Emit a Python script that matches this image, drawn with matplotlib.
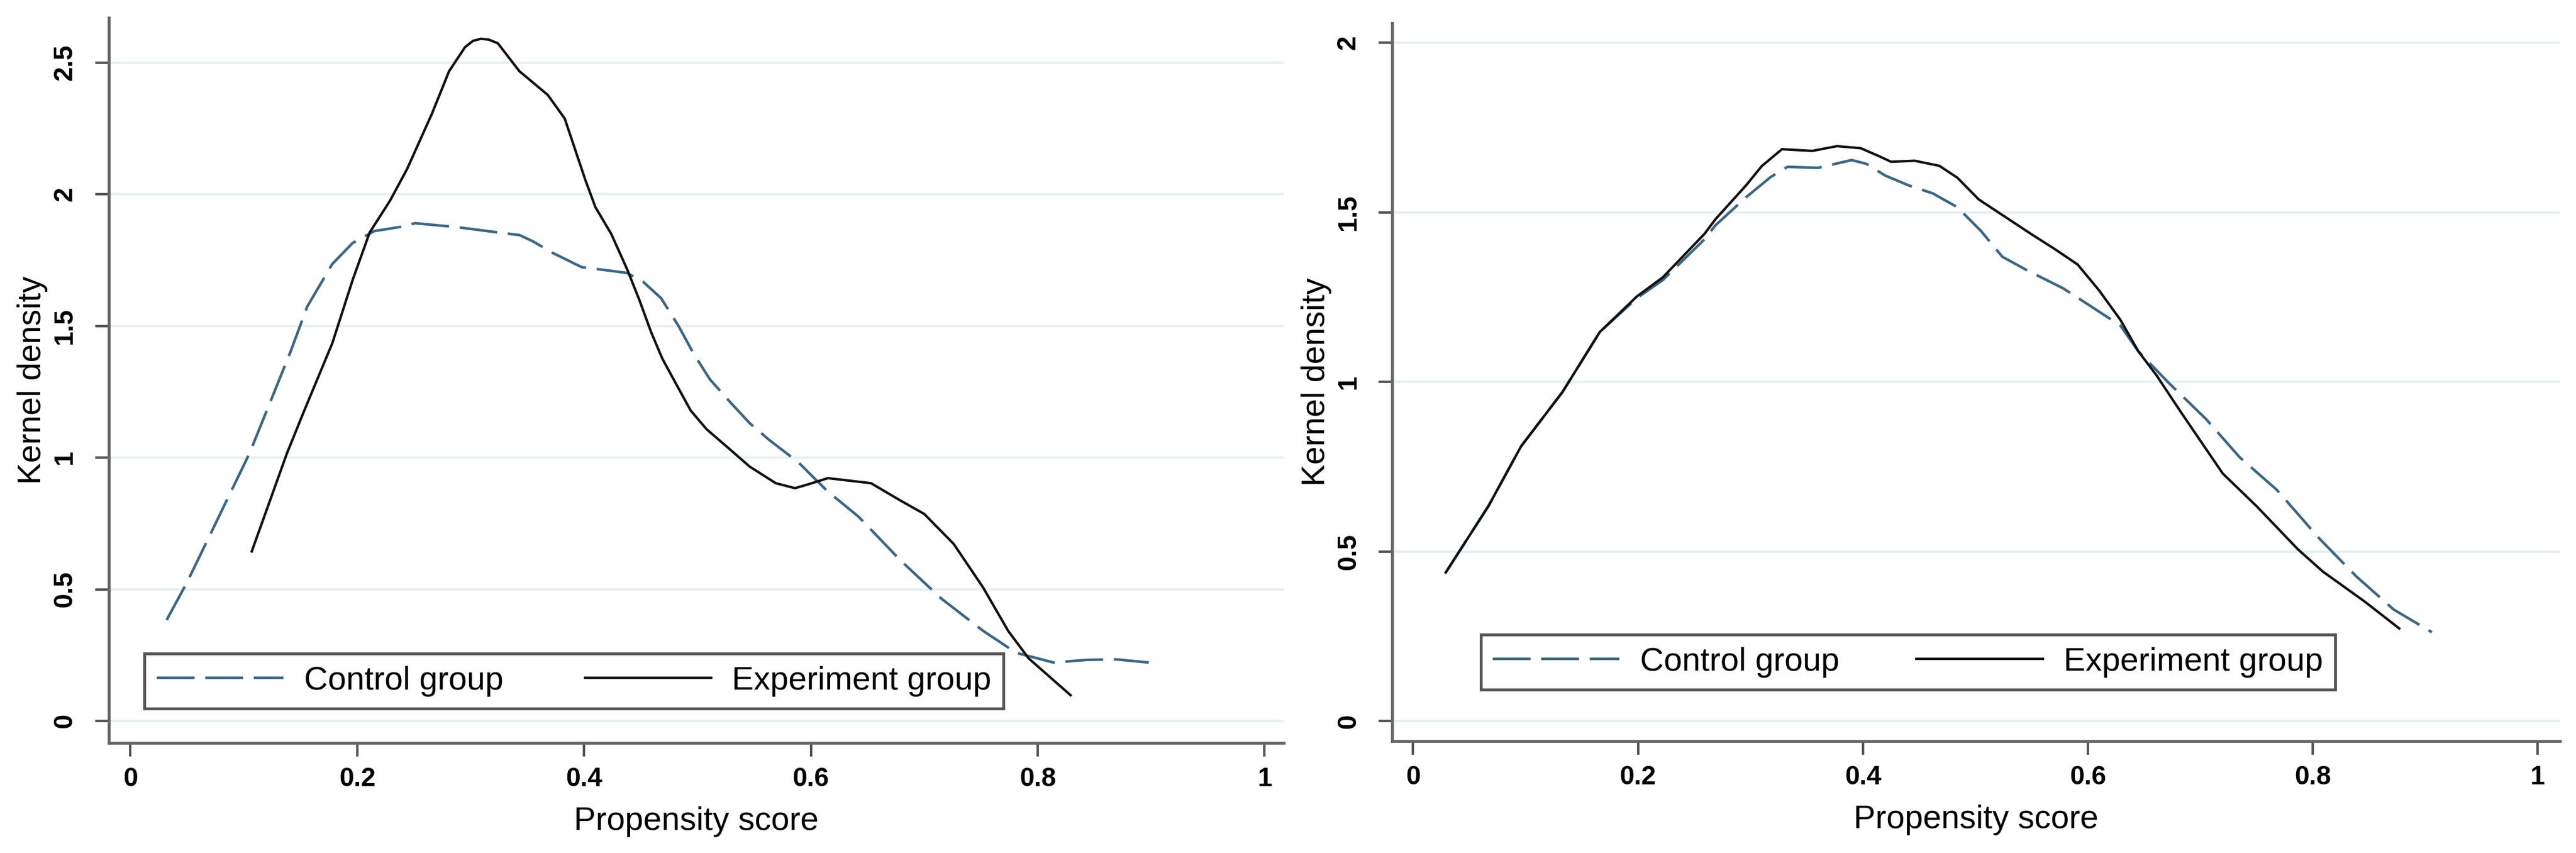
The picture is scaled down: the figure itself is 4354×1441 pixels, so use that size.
import matplotlib
matplotlib.use("Agg")
import matplotlib.pyplot as plt

# ---- data ----
# left panel: before matching
left_ctrl_x = [0.032, 0.050, 0.105, 0.141, 0.156, 0.178, 0.196, 0.215, 0.237, 0.251,
               0.288, 0.324, 0.343, 0.355, 0.372, 0.398, 0.424, 0.438, 0.452, 0.468,
               0.483, 0.497, 0.511, 0.529, 0.546, 0.563, 0.589, 0.615, 0.642, 0.679,
               0.715, 0.752, 0.781, 0.814, 0.843, 0.869, 0.898]
left_ctrl_y = [0.384, 0.527, 1.016, 1.400, 1.574, 1.735, 1.815, 1.860, 1.875, 1.890,
               1.875, 1.855, 1.845, 1.821, 1.778, 1.723, 1.709, 1.701, 1.668, 1.605,
               1.502, 1.392, 1.297, 1.210, 1.131, 1.068, 0.982, 0.871, 0.776, 0.610,
               0.465, 0.342, 0.259, 0.222, 0.232, 0.234, 0.222]

left_exp_x = [0.107, 0.138, 0.152, 0.178, 0.196, 0.211, 0.229, 0.244, 0.266, 0.281,
              0.295, 0.302, 0.309, 0.316, 0.324, 0.343, 0.368, 0.383, 0.401, 0.410,
              0.424, 0.438, 0.449, 0.459, 0.469, 0.480, 0.494, 0.508, 0.529, 0.546,
              0.569, 0.586, 0.598, 0.615, 0.653, 0.679, 0.700, 0.726, 0.752, 0.774,
              0.792, 0.829]
left_exp_y = [0.644, 1.016, 1.165, 1.434, 1.675, 1.855, 1.976, 2.096, 2.307, 2.467,
              2.558, 2.582, 2.590, 2.587, 2.573, 2.467, 2.377, 2.287, 2.056, 1.951,
              1.849, 1.715, 1.596, 1.478, 1.376, 1.289, 1.179, 1.108, 1.030, 0.966,
              0.903, 0.884, 0.899, 0.922, 0.903, 0.837, 0.786, 0.672, 0.506, 0.342,
              0.238, 0.098]

# right panel: after matching
right_ctrl_x = [0.029, 0.067, 0.096, 0.133, 0.166, 0.199, 0.222, 0.259, 0.269, 0.296,
                0.318, 0.333, 0.360, 0.390, 0.403, 0.420, 0.441, 0.462, 0.484, 0.505,
                0.524, 0.546, 0.578, 0.605, 0.629, 0.645, 0.672, 0.705, 0.735, 0.768,
                0.806, 0.839, 0.872, 0.906]
right_ctrl_y = [0.438, 0.634, 0.810, 0.971, 1.147, 1.247, 1.300, 1.420, 1.462, 1.544,
                1.604, 1.634, 1.631, 1.654, 1.643, 1.608, 1.579, 1.556, 1.515, 1.445,
                1.369, 1.329, 1.276, 1.218, 1.166, 1.090, 0.997, 0.891, 0.778, 0.682,
                0.538, 0.426, 0.329, 0.262]

right_exp_x = [0.029, 0.067, 0.096, 0.133, 0.166, 0.199, 0.222, 0.259, 0.269, 0.296,
               0.310, 0.328, 0.355, 0.377, 0.398, 0.414, 0.425, 0.446, 0.468, 0.484,
               0.503, 0.524, 0.551, 0.570, 0.591, 0.610, 0.629, 0.645, 0.661, 0.683,
               0.720, 0.750, 0.787, 0.809, 0.846, 0.877]
right_exp_y = [0.438, 0.634, 0.810, 0.971, 1.147, 1.252, 1.308, 1.436, 1.480, 1.579,
               1.636, 1.686, 1.681, 1.695, 1.689, 1.666, 1.649, 1.652, 1.637, 1.602,
               1.538, 1.492, 1.433, 1.393, 1.346, 1.270, 1.183, 1.090, 1.020, 0.910,
               0.730, 0.634, 0.506, 0.441, 0.353, 0.273]

x_ticks = [0, 0.2, 0.4, 0.6, 0.8, 1]
x_ticklabels = ["0", "0.2", "0.4", "0.6", "0.8", "1"]
left_y_ticks = [0, 0.5, 1, 1.5, 2, 2.5]
left_y_ticklabels = ["0", "0.5", "1", "1.5", "2", "2.5"]
right_y_ticks = [0, 0.5, 1, 1.5, 2]
right_y_ticklabels = ["0", "0.5", "1", "1.5", "2"]

labels = ["Control group", "Experiment group"]

# ---- style ----
CTRL = "#3b6787"
EXP = "#111111"
AXC = "#666666"
GRID = "#e7f0f2"

plt.rcParams["font.family"] = ["Liberation Sans", "DejaVu Sans"]
plt.rcParams["lines.scale_dashes"] = False
DASH = (0, (46, 13))


def panel(ax, cx, cy, ex, ey, yticks, yticklabels, xlim, ylim, leg_box):
    ax.set_xlim(*xlim)
    ax.set_ylim(*ylim)
    for s in ("top", "right"):
        ax.spines[s].set_visible(False)
    for s in ("left", "bottom"):
        ax.spines[s].set_color(AXC)
        ax.spines[s].set_linewidth(3.5)

    ax.set_yticks(yticks)
    ax.set_yticklabels(yticklabels, fontsize=32, fontweight="bold",
                       rotation=90, va="center")
    ax.set_xticks(x_ticks)
    ax.set_xticklabels(x_ticklabels, fontsize=32, fontweight="bold")
    ax.tick_params(axis="both", length=16.5, width=3, color="#555555")
    ax.tick_params(axis="x", pad=13)
    ax.tick_params(axis="y", pad=22)

    ax.grid(axis="y", color=GRID, linewidth=3)
    ax.set_axisbelow(True)

    l1, = ax.plot(cx, cy, color=CTRL, lw=3.2, linestyle=DASH)
    l2, = ax.plot(ex, ey, color=EXP, lw=3.0)

    ax.set_xlabel("Propensity score", fontsize=40, labelpad=18)
    ax.set_ylabel("Kernel density", fontsize=40, labelpad=6)

    leg = ax.legend([l1, l2], labels, ncol=2, mode="expand", loc="lower left",
                    bbox_to_anchor=leg_box, bbox_transform=ax.transData,
                    borderaxespad=0, borderpad=0.37, handlelength=3.85,
                    handletextpad=0.63, fontsize=40, fancybox=False,
                    framealpha=1, edgecolor="#555555")
    leg.get_frame().set_linewidth(3.5)


fig = plt.figure(figsize=(43.54, 14.41), dpi=100)
ax1 = fig.add_axes([0.04226, 0.1291, 0.4561, 0.8501])
ax2 = fig.add_axes([0.5405, 0.1312, 0.4533, 0.8418])

panel(ax1, left_ctrl_x, left_ctrl_y, left_exp_x, left_exp_y,
      left_y_ticks, left_y_ticklabels, (-0.019, 1.017), (-0.083, 2.67),
      (0.0125, 0.047, 0.7575, 0.236))
panel(ax2, right_ctrl_x, right_ctrl_y, right_exp_x, right_exp_y,
      right_y_ticks, right_y_ticklabels, (-0.0185, 1.020), (-0.059, 2.058),
      (0.060, 0.092, 0.760, 0.181))

fig.savefig("out.png", dpi=100)
